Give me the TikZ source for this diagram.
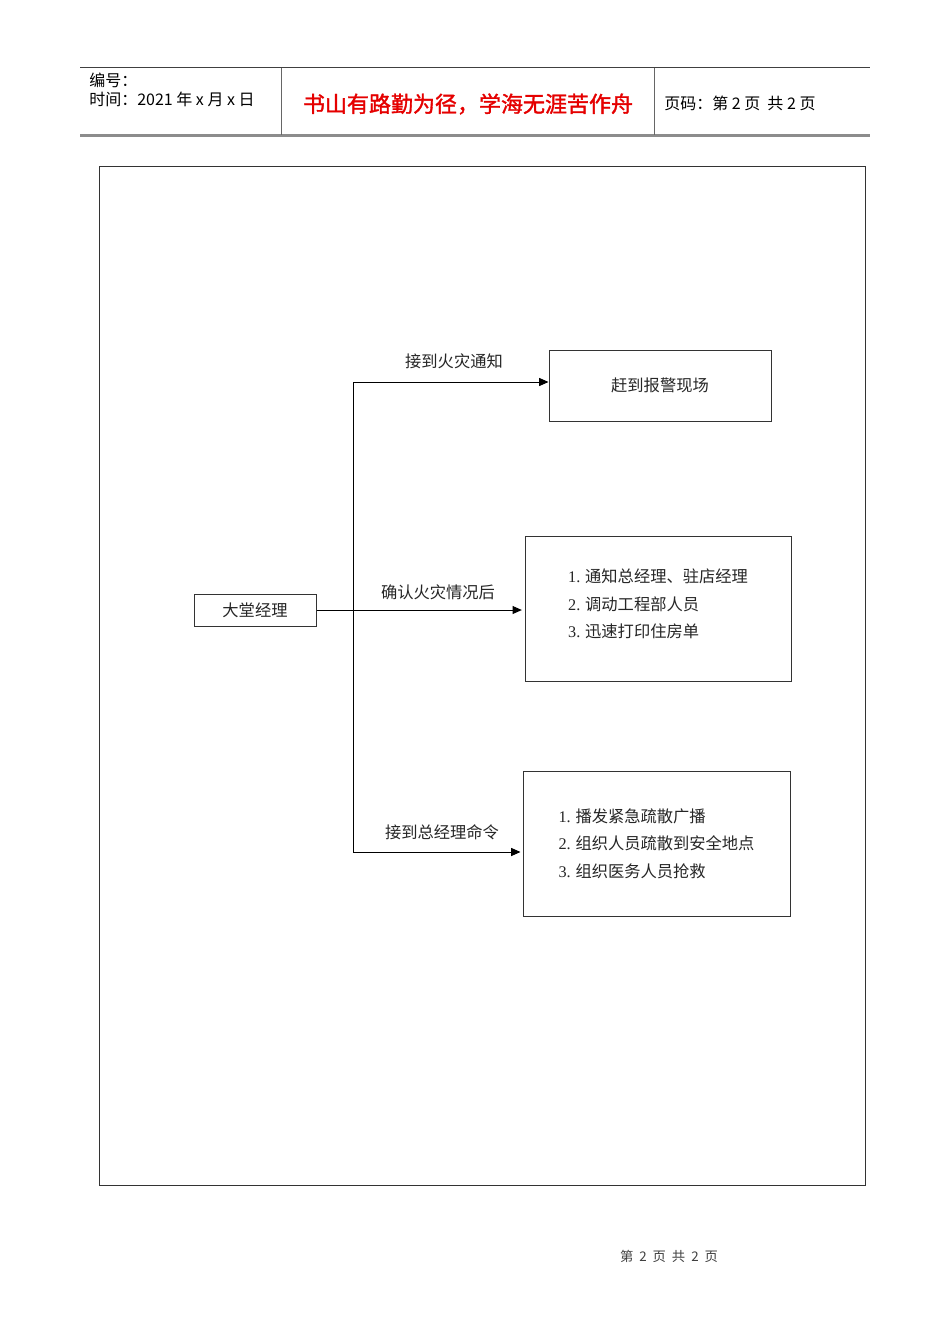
\documentclass[tikz,border=0pt]{standalone}
\usepackage{fontspec}
\setmainfont{Liberation Serif}
\newfontfamily\cjk{Noto Sans CJK SC}
\newfontfamily\cjkb{Noto Sans CJK SC}[BoldFont=*,FakeBold=1.5]
\usetikzlibrary{arrows.meta}
\begin{document}
\begin{tikzpicture}[x=0.75pt,y=-0.75pt,
  box/.style={draw=black!80,line width=0.75pt,rectangle,inner sep=0pt,font=\cjk\fontsize{12.2}{20.6}\selectfont,text=black!85},
  lbl/.style={inner sep=0pt,font=\cjk\fontsize{12.2}{14}\selectfont,text=black!85},
  arr/.style={line width=0.75pt,-{Triangle[length=7pt,width=6pt]}},
  hdr/.style={inner sep=0pt,anchor=west,font=\cjk\fontsize{12}{14}\selectfont}]
\useasboundingbox[fill=white] (0,0) rectangle (950,1344);
% header
\draw[line width=0.75pt,black!75] (80,68) -- (870,68);
\draw[line width=1.6pt,black!45] (80,135.5) -- (870,135.5);
\draw[line width=0.75pt,black!60] (281,68) -- (281,135);
\draw[line width=0.75pt,black!60] (654,68) -- (654,135);
\node[hdr] (h1) at (89,80) {编号：};
\node[hdr] (h2) at (89,99) {时间：2021 年 x 月 x 日};
\node[inner sep=0pt,font=\cjkb\fontsize{16.5}{18}\selectfont,text=red!90!black] (title) at (468,104) {书山有路勤为径，学海无涯苦作舟};
\node[hdr] (h3) at (664,103) {页码：第 2 页\ \ 共 2 页};
% frame
\draw[line width=0.75pt,black!80] (99,167) rectangle (865,1185);
% nodes
\node[box,minimum width=91.5pt,minimum height=24pt] (lobby) at (255,610) {大堂经理};
\node[box,minimum width=166.5pt,minimum height=53.25pt] (b1) at (660,385.5) {赶到报警现场};
\node[box,minimum width=199.5pt,minimum height=108.75pt,align=left,text depth=8pt] (b2) at (658,608.5) {{\rmfamily 1.} 通知总经理、驻店经理\\{\rmfamily 2.} 调动工程部人员\\{\rmfamily 3.} 迅速打印住房单};
\node[box,minimum width=200.25pt,minimum height=108.75pt,align=left] (b3) at (656.5,843.5) {{\rmfamily 1.} 播发紧急疏散广播\\{\rmfamily 2.} 组织人员疏散到安全地点\\{\rmfamily 3.} 组织医务人员抢救};
% connectors
\coordinate (top) at (353,382);
\coordinate (bot) at (353,852);
\draw[line width=0.75pt] (top) -- (bot);
\draw[arr] (lobby.east) -- ([xshift=-2pt]lobby.east -| b2.west);
\draw[arr] (top) -- (top -| b1.west);
\draw[arr] (bot) -- ([xshift=-1.5pt]bot -| b3.west);
\node[lbl] (l1) at (454,361) {接到火灾通知};
\node[lbl] (l2) at (438,592) {确认火灾情况后};
\node[lbl] (l3) at (442,832) {接到总经理命令};
% footer
\node[inner sep=0pt,font=\cjk\fontsize{10}{11}\selectfont,text=black!75] (foot) at (669,1256) {第\ \ 2\ \ 页\ \ 共\ \ 2\ \ 页};
\end{tikzpicture}
\end{document}
